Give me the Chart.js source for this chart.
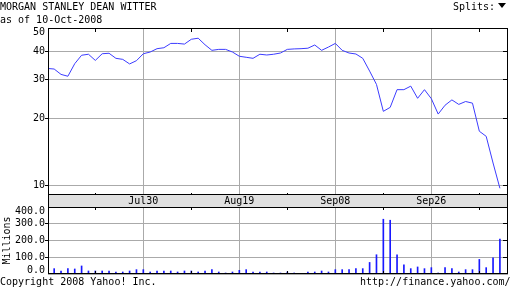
<!DOCTYPE html>
<html>
<head>
<meta charset="utf-8">
<script src="https://cdn.jsdelivr.net/npm/chart.js@4.4.0/dist/chart.umd.min.js"></script>
<style>
  body { margin: 0; background: #fff; }
  #wrap { position: relative; width: 512px; height: 288px; overflow: hidden; font: 10px/10px "DejaVu Sans Mono", monospace; color: #000; }
  #wrap canvas { position: absolute; left: 0; top: 0; }
  .txt { position: absolute; white-space: pre; }
  #arrow { position: absolute; left: 498px; top: 3px; width: 0; height: 0; border-left: 4px solid transparent; border-right: 4px solid transparent; border-top: 5px solid #000; }
</style>
</head>
<body>
<div id="wrap">
  <canvas id="priceChart" width="512" height="288"></canvas>
  <canvas id="volumeChart" width="512" height="288"></canvas>
  <div class="txt" style="left:0;top:2px">MORGAN STANLEY DEAN WITTER</div>
  <div class="txt" style="left:0;top:15px">as of 10-Oct-2008</div>
  <div class="txt" style="left:453px;top:2px">Splits:</div>
  <div id="arrow"></div>
  <div class="txt" style="left:0;top:277px">Copyright 2008 Yahoo! Inc.</div>
  <div class="txt" style="left:360px;top:277px">http://finance.yahoo.com/</div>
</div>
<script>
// Daily closes (USD), one per trading day, plus the close just before the window
const priceBefore = 33.5;
const prices = [33.3, 31.5, 30.9, 35.2, 38.4, 38.8, 36.4, 39.0, 39.2, 37.2,
                36.8, 35.1, 36.3, 39.0, 39.7, 41.1, 41.5, 43.4, 43.4, 43.1,
                45.3, 45.8, 42.8, 40.4, 40.8, 40.8, 39.7, 38.0, 37.6, 37.2,
                38.8, 38.5, 38.8, 39.3, 40.8, 41.0, 41.1, 41.3, 42.7, 40.4,
                41.8, 43.4, 40.4, 39.3, 38.9, 37.2, 32.6, 28.4, 21.5, 22.4,
                26.9, 26.9, 27.9, 24.6, 26.9, 24.5, 20.9, 22.9, 24.2, 23.1,
                23.8, 23.4, 17.5, 16.6, 12.6, 9.7];

// Daily volume (millions of shares)
const volumes = [32, 18, 32, 30, 48, 18, 18, 18, 18, 12,
                 12, 18, 26, 26, 12, 18, 18, 18, 12, 18,
                 18, 12, 18, 26, 12, 6, 12, 22, 26, 12,
                 12, 12, 6, 6, 12, 6, 2, 12, 12, 18,
                 12, 26, 26, 26, 32, 32, 69, 115, 327, 321,
                 115, 55, 32, 42, 32, 38, 6, 38, 32, 12,
                 26, 26, 87, 38, 97, 208];

// Axis ticks
const priceTicks = [10, 20, 30, 40, 50];
const priceTickLabels = ['10', '20', '30', '40', '50'];
const volumeTicks = [0, 100, 200, 300, 400];
const volumeTickLabels = ['0.0', '100.0', '200.0', '300.0', '400.0'];
const dateTickIdx = [13, 27, 41, 55];
const dateTickLabels = ['Jul30', 'Aug19', 'Sep08', 'Sep26'];
const minorTickIdx = [6, 20, 34, 48, 62];

const GRID = '#aaaaaa';
const FONT = '"DejaVu Sans Mono", monospace';
const align = p => Math.round(p - 0.5) + 0.5;

// black frame, small tick marks and left-hand labels
function framePlugin(opts) {
    return {
        id: 'frame',
        afterDraw(chart) {
            const { ctx, chartArea: a, scales } = chart;
            const x = scales.x, y = scales.y;
            ctx.save();
            ctx.strokeStyle = '#000';
            ctx.lineWidth = 1;
            ctx.beginPath();
            minorTickIdx.forEach(i => {
                const px = align(x.getPixelForValue(i));
                ctx.moveTo(px, a.top); ctx.lineTo(px, a.top + opts.topTick);
                ctx.moveTo(px, a.bottom); ctx.lineTo(px, a.bottom - opts.bottomTick);
            });
            opts.sideTicks.forEach(v => {
                const py = align(y.getPixelForValue(v));
                ctx.moveTo(a.left - 3, py); ctx.lineTo(a.left, py);
                ctx.moveTo(a.right - 5, py); ctx.lineTo(a.right, py);
            });
            ctx.stroke();
            ctx.strokeRect(a.left + 0.5, a.top + 0.5, a.right - a.left - 1, a.bottom - a.top - 1);

            ctx.fillStyle = '#000';
            ctx.font = '10px ' + FONT;
            ctx.textAlign = 'right';
            ctx.textBaseline = 'middle';
            opts.values.forEach((v, k) => {
                let py = y.getPixelForValue(v);
                py = Math.min(Math.max(py, a.top + 4.7), a.bottom - 3.3);
                ctx.fillText(opts.labels[k], 45, py);
            });
            ctx.restore();
        }
    };
}

// grey date band under the price panel
const bandPlugin = {
    id: 'band',
    beforeDraw(chart) {
        const { ctx, chartArea: a } = chart;
        ctx.save();
        ctx.fillStyle = '#e0e0e0';
        ctx.fillRect(a.left, a.bottom, a.right - a.left, 12);
        ctx.strokeStyle = '#000';
        ctx.strokeRect(a.left + 0.5, a.bottom - 0.5, a.right - a.left - 1, 13);
        ctx.restore();
    }
};

function dateAxis(height, showLabels) {
    return {
        type: 'linear',
        min: -0.9,
        max: 66.18,
        offset: false,
        afterFit: s => { s.height = height; },
        afterBuildTicks: s => { s.ticks = dateTickIdx.map(v => ({ value: v })); },
        ticks: {
            display: showLabels,
            autoSkip: false,
            maxRotation: 0,
            padding: 0,
            color: '#000',
            font: { family: FONT, size: 10 },
            callback: v => dateTickLabels[dateTickIdx.indexOf(v)]
        },
        grid: { color: GRID, drawTicks: false, offset: false },
        border: { display: false }
    };
}

function createPriceChart() {
    const ctx = document.getElementById('priceChart').getContext('2d');
    const points = [{ x: -1, y: priceBefore }].concat(prices.map((v, i) => ({ x: i, y: v })));
    new Chart(ctx, {
        type: 'line',
        data: {
            datasets: [{
                data: points,
                borderColor: '#3c3cff',
                borderWidth: 1,
                pointRadius: 0,
                tension: 0,
                fill: false
            }]
        },
        options: {
            responsive: false,
            animation: false,
            layout: { padding: { top: 28, bottom: 81, left: 0, right: 4 } },
            plugins: { legend: { display: false }, tooltip: { enabled: false } },
            scales: {
                x: dateAxis(12, true),
                y: {
                    type: 'logarithmic',
                    min: 9.05,
                    max: 50.9,
                    afterFit: s => { s.width = 48; },
                    afterBuildTicks: s => { s.ticks = priceTicks.map(v => ({ value: v })); },
                    ticks: { display: false },
                    grid: {
                        color: c => (c.tick && c.tick.value === 50) ? 'rgba(0,0,0,0)' : GRID,
                        drawTicks: false
                    },
                    border: { display: false }
                }
            }
        },
        plugins: [bandPlugin, framePlugin({
            topTick: 4, bottomTick: 2,
            sideTicks: [10, 20, 30, 40],
            values: priceTicks, labels: priceTickLabels
        })]
    });
}

function createVolumeChart() {
    const ctx = document.getElementById('volumeChart').getContext('2d');
    new Chart(ctx, {
        type: 'bar',
        data: {
            datasets: [{
                data: volumes.map((v, i) => ({ x: i, y: v })),
                backgroundColor: '#1818ff',
                barThickness: 1
            }]
        },
        options: {
            responsive: false,
            animation: false,
            layout: { padding: { top: 207, bottom: 14, left: 0, right: 4 } },
            plugins: { legend: { display: false }, tooltip: { enabled: false } },
            scales: {
                x: dateAxis(0, false),
                y: {
                    min: 0,
                    max: 400,
                    afterFit: s => { s.width = 48; },
                    afterBuildTicks: s => { s.ticks = volumeTicks.map(v => ({ value: v })); },
                    ticks: { display: false },
                    grid: { color: GRID, drawTicks: false },
                    border: { display: false },
                    title: {
                        display: true,
                        text: 'Millions',
                        color: '#000',
                        padding: { top: 1, bottom: 0 },
                        font: { family: FONT, size: 10, lineHeight: 1.2 }
                    }
                }
            }
        },
        plugins: [framePlugin({
            topTick: 3, bottomTick: 3,
            sideTicks: [100, 200, 300],
            values: volumeTicks, labels: volumeTickLabels
        })]
    });
}

createPriceChart();
createVolumeChart();
</script>
</body>
</html>
